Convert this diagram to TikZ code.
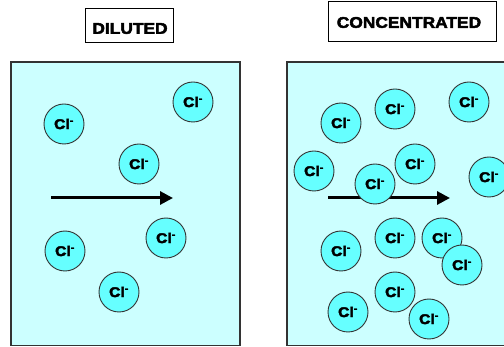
\documentclass[tikz,border=0pt]{standalone}
\usepackage{fontspec}
\setmainfont{Liberation Sans}[BoldFeatures={FakeBold=3,FakeStretch=1.12}]
\usetikzlibrary{arrows.meta}
\definecolor{bgcyan}{HTML}{CCFFFF}
\definecolor{ioncyan}{HTML}{66FFFF}
\definecolor{edge}{HTML}{333333}
\begin{document}
\begin{tikzpicture}[x=1pt,y=-1pt,
  tank/.style={draw=edge,line width=1.5pt,fill=bgcyan},
  titlebox/.style={draw=black,line width=1pt,fill=white},
  titletext/.style={font=\fontsize{15.5}{17}\selectfont\bfseries,inner sep=0pt},
  ion/.style={circle,draw=edge,line width=0.9pt,fill=ioncyan,minimum size=40pt,inner sep=0pt,
    font=\fontsize{14}{15}\selectfont\bfseries},
  flow/.style={line width=3pt,-{Triangle[length=13pt,width=13pt]}}]
\useasboundingbox (0,0) rectangle (504,347);
% boxes
\draw[titlebox] (85,9) rectangle (173,43);
\node[titletext] (tdil) at (130,28.5) {DILUTED};
\draw[titlebox] (328,2) rectangle (496,42);
\node[titletext] (tcon) at (409,22.5) {CONCENTRATED};
\draw[tank] (11,62) rectangle (240,345.5);
\draw[tank] (287,62) rectangle (510,345.5);
% arrows
\coordinate (la) at (51,198);
\coordinate (lb) at (173,198);
\coordinate (ra) at (328,198);
\coordinate (rb) at (450,198);
\draw[flow] (la) -- (lb);
\draw[flow] (ra) -- (rb);
% left ions
\node[ion] (l1) at (64,124) {Cl\textsuperscript{-}};
\node[ion] (l2) at (193,102) {Cl\textsuperscript{-}};
\node[ion] (l3) at (139,164) {Cl\textsuperscript{-}};
\node[ion] (l4) at (166,238) {Cl\textsuperscript{-}};
\node[ion] (l5) at (65,251) {Cl\textsuperscript{-}};
\node[ion] (l6) at (119,292) {Cl\textsuperscript{-}};
% right ions
\node[ion] (r1) at (341,123) {Cl\textsuperscript{-}};
\node[ion] (r2) at (395,109) {Cl\textsuperscript{-}};
\node[ion] (r3) at (469,102) {Cl\textsuperscript{-}};
\node[ion] (r4) at (314,171) {Cl\textsuperscript{-}};
\node[ion] (r5) at (415,164) {Cl\textsuperscript{-}};
\node[ion] (r6) at (375,184) {Cl\textsuperscript{-}};
\node[ion] (r7) at (489,177) {Cl\textsuperscript{-}};
\node[ion] (r8) at (341,251) {Cl\textsuperscript{-}};
\node[ion] (r9) at (395,238) {Cl\textsuperscript{-}};
\node[ion] (r10) at (442,238) {Cl\textsuperscript{-}};
\node[ion] (r11) at (462,265) {Cl\textsuperscript{-}};
\node[ion] (r12) at (395,292) {Cl\textsuperscript{-}};
\node[ion] (r13) at (348,312) {Cl\textsuperscript{-}};
\node[ion] (r14) at (429,319) {Cl\textsuperscript{-}};
\end{tikzpicture}
\end{document}
